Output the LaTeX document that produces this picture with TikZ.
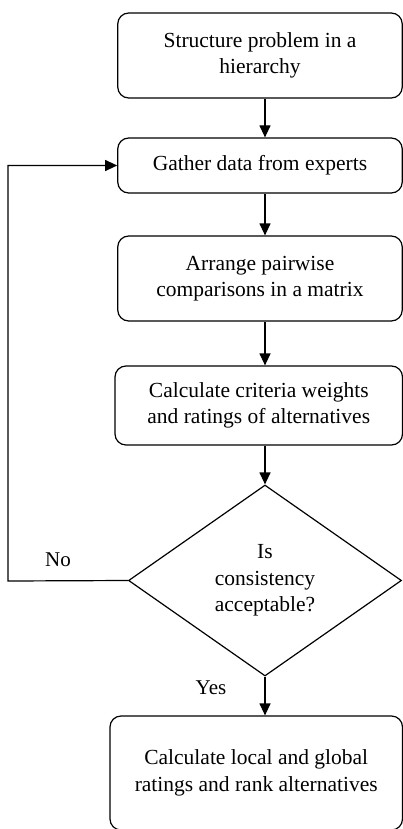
\documentclass[tikz,border=0pt]{standalone}
\usepackage{fontspec}
\setmainfont{Liberation Serif}
\usepackage{tikz}
\usetikzlibrary{arrows.meta, shapes.geometric, positioning, calc}
\tikzstyle{arrow} = [line width=1.2pt, black, -{Triangle[length=12pt, width=11pt]}]
\tikzstyle{stepbox} = [draw, line width=1.2pt, rounded corners=11pt, align=center, inner sep=0pt, font=\fontsize{21.5}{26.5}\selectfont]
\tikzstyle{decision} = [draw, diamond, line width=1.2pt, align=center, inner sep=0pt, font=\fontsize{21.5}{26.5}\selectfont]
\tikzstyle{answer} = [font=\fontsize{21}{26}\selectfont, inner sep=0pt]

\begin{document}
\begin{tikzpicture}[x=1pt, y=-1pt]
    \useasboundingbox (0,0) rectangle (403,829);
    % process steps
    \node[stepbox, minimum width=284.5pt, minimum height=85pt] (structure) at (260,55.5) {Structure problem in a\\hierarchy};
    \node[stepbox, minimum width=284.5pt, minimum height=55pt] (gather) at (260,165.5) {Gather data from experts};
    \node[stepbox, minimum width=284.5pt, minimum height=85pt] (arrange) at (260,278.5) {Arrange pairwise\\comparisons in a matrix};
    \node[stepbox, minimum width=287.5pt, minimum height=79pt] (weights) at (258.75,405.5) {Calculate criteria weights\\and ratings of alternatives};
    \node[decision, minimum width=273pt, minimum height=191pt] (consist) at (265,580.5) {Is\\consistency\\acceptable?};
    \node[stepbox, minimum width=292.5pt, minimum height=114pt] (rank) at (256.25,773) {Calculate local and global\\ratings and rank alternatives};
    \coordinate (loop) at (8,581);
    % connectors
    \draw[arrow] (structure.south -| consist.north) -- (gather.north -| consist.north);
    \draw[arrow] (gather.south -| consist.north) -- (arrange.north -| consist.north);
    \draw[arrow] (arrange.south -| consist.north) -- (weights.north -| consist.north);
    \draw[arrow] (weights.south -| consist.north) -- (consist.north);
    \draw[arrow] (consist.south) -- (rank.north -| consist.south);
    \draw[arrow] (consist.west) -- (loop) |- (gather.west);
    % labels
    \node[answer] (no) at (58,560) {No};
    \node[answer] (yes) at (211,688) {Yes};
\end{tikzpicture}
\end{document}
